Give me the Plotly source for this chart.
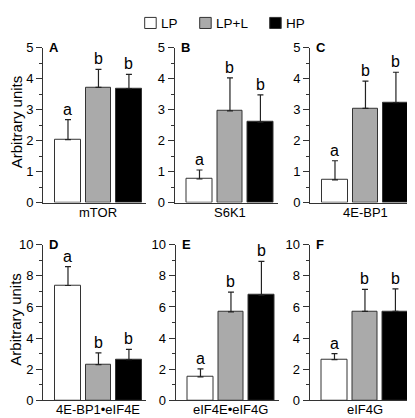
import plotly.graph_objects as go

W, H = 415, 418

groups = ["LP", "LP+L", "HP"]
colors = ["#ffffff", "#aaaaaa", "#000000"]

panel_letters = ["A", "B", "C", "D", "E", "F"]
proteins = ["mTOR", "S6K1", "4E-BP1", "4E-BP1\u2022eIF4E", "eIF4E\u2022eIF4G", "eIF4G"]

# means per panel (LP, LP+L, HP)
means = [
    [2.03, 3.72, 3.68],
    [0.76, 2.96, 2.60],
    [0.73, 3.04, 3.23],
    [7.38, 2.29, 2.62],
    [1.51, 5.68, 6.76],
    [2.62, 5.72, 5.72],
]
# upper error (SE) per panel
errors = [
    [0.65, 0.58, 0.46],
    [0.29, 1.07, 0.88],
    [0.62, 0.88, 0.98],
    [1.22, 0.76, 0.66],
    [0.51, 1.28, 2.17],
    [0.38, 1.41, 1.45],
]
sig = [
    ["a", "b", "b"],
    ["a", "b", "b"],
    ["a", "b", "b"],
    ["a", "b", "b"],
    ["a", "b", "b"],
    ["a", "b", "b"],
]
ymax = [5, 5, 5, 10, 10, 10]
ydtick = [1, 1, 1, 2, 2, 2]
yminor = [0.5, 0.5, 0.5, 1, 1, 1]

# layout in pixels
axis_x = [35, 166.5, 302, 35, 167.5, 301.5]
panel_w = 103
row_y = [(34, 194.5), (238.3, 399.7)]
label_y = [205, 409.5]

FONT = "Liberation Sans, Arial, sans-serif"

def px(x):
    return x / W

def py(y):
    return 1 - y / H

fig = go.Figure()
layout = dict(
    width=W, height=H,
    margin=dict(l=0, r=0, t=0, b=0),
    paper_bgcolor="white", plot_bgcolor="white",
    showlegend=False,
    font=dict(family=FONT, size=13, color="black"),
    bargap=0,
)
annotations = []
shapes = []

xcats = [0, 1, 2]
for i in range(6):
    n = "" if i == 0 else str(i + 1)
    xa, ya = "x" + n, "y" + n
    row = 0 if i < 3 else 1
    for g in range(3):
        fig.add_trace(go.Bar(
            x=[xcats[g]], y=[means[i][g]],
            width=0.85,
            marker=dict(color=colors[g], line=dict(color="#333333", width=1)),
            error_y=dict(type="data", symmetric=False, array=[errors[i][g]],
                         arrayminus=[0], color="#222222", thickness=1.2, width=3),
            xaxis=xa, yaxis=ya, name=groups[g],
        ))
        annotations.append(dict(
            x=xcats[g], y=means[i][g] + errors[i][g], xref=xa, yref=ya,
            text=sig[i][g], showarrow=False, yanchor="bottom", yshift=0,
            font=dict(family=FONT, size=16, color="black"),
        ))
    x0 = axis_x[i]
    layout["xaxis" + n] = dict(
        domain=[px(x0), px(x0 + panel_w)], range=[-0.82, 2.56],
        showticklabels=False, ticks="", showgrid=False, zeroline=False,
        showline=True, linecolor="#333333", linewidth=1, anchor=ya,
    )
    layout["yaxis" + n] = dict(
        domain=[py(row_y[row][1]), py(row_y[row][0])], range=[0, ymax[i]],
        dtick=ydtick[i], tick0=0, ticks="outside", ticklen=6, tickwidth=1,
        tickcolor="#333333", showgrid=False, zeroline=False,
        showline=True, linecolor="#333333", linewidth=1, anchor=xa,
        ticklabelstandoff=0,
        tickfont=dict(family=FONT, size=13, color="black"),
        minor=dict(dtick=yminor[i], ticks="outside", ticklen=3,
                   tickcolor="#333333", tickwidth=1),
    )
    annotations.append(dict(
        x=px(x0 + 4), y=py(row_y[row][0] - 0.5), xref="paper", yref="paper",
        text="<b>" + panel_letters[i] + "</b>", showarrow=False,
        xanchor="left", yanchor="middle",
        font=dict(family=FONT, size=13, color="black"),
    ))
    annotations.append(dict(
        x=1, y=py(label_y[row]), xref=xa, yref="paper",
        text=proteins[i], showarrow=False, xanchor="center", yanchor="middle",
        borderpad=0,
        font=dict(family=FONT, size=13, color="black"),
    ))

for row in range(2):
    annotations.append(dict(
        x=px(8), y=py((row_y[row][0] + row_y[row][1]) / 2 - 3), xref="paper", yref="paper",
        text="Arbitrary units", showarrow=False, textangle=-90,
        xanchor="center", yanchor="middle",
        font=dict(family=FONT, size=15, color="black"),
    ))

# legend drawn manually
leg_x = [136.7, 191.7, 261.7]
for g in range(3):
    shapes.append(dict(
        type="rect", xref="paper", yref="paper",
        x0=px(leg_x[g]), x1=px(leg_x[g] + 11.5), y0=py(14), y1=py(2.5),
        fillcolor=colors[g], line=dict(color="#333333", width=1),
    ))
    annotations.append(dict(
        x=px(leg_x[g] + 14), y=py(8.3), xref="paper", yref="paper",
        text=groups[g], showarrow=False, xanchor="left", yanchor="middle",
        font=dict(family=FONT, size=13.5, color="black"),
    ))

layout["annotations"] = annotations
layout["shapes"] = shapes
fig.update_layout(**layout)
fig.write_html("out.html")
